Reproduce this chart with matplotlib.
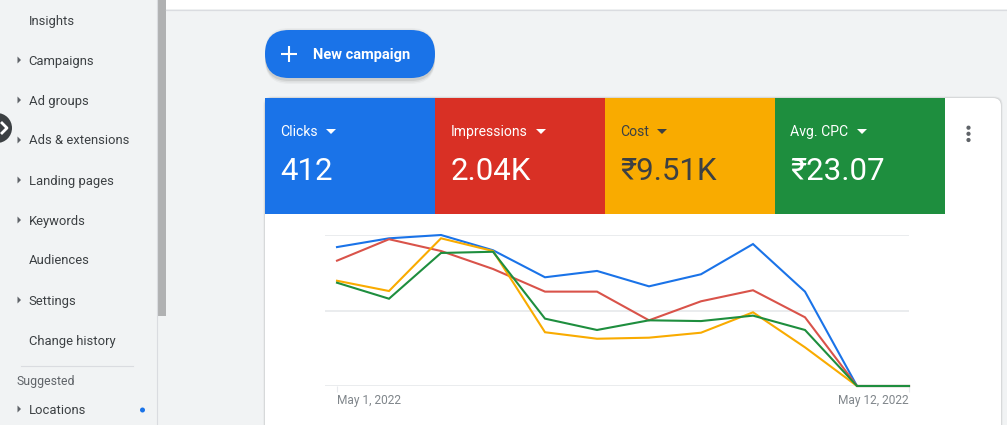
import numpy as np
import matplotlib
matplotlib.use('Agg')
import matplotlib.pyplot as plt
from matplotlib.patches import Rectangle, FancyBboxPatch, Circle, Polygon

plt.rcParams['font.family'] = ['Roboto', 'Noto Sans', 'DejaVu Sans']

W, H = 1007, 425

# sidebar
menu_items = ['Insights', 'Campaigns', 'Ad groups', 'Ads & extensions', 'Landing pages',
              'Keywords', 'Audiences', 'Settings', 'Change history']
menu_arrows = [False, True, True, True, True, True, False, True, False]

# metric tiles
tile_names = ['Clicks', 'Impressions', 'Cost', 'Avg. CPC']
tile_values = ['412', '2.04K', '₹9.51K', '₹23.07']
tile_colors = ['#1a73e8', '#d93025', '#f9ab00', '#1e8e3e']
tile_text = ['white', 'white', '#3c4043', 'white']
tile_caret = [331, 541, 662, 862]

# chart, each series scaled to its own max (no y axis in the screenshot)
days = np.arange(1, 13)
clicks = [92, 97.8, 100, 89.9, 72, 76.2, 66, 74, 94, 62.5, 0, 0]
impressions = [83, 97.2, 89.4, 77.5, 62.5, 62.5, 43.5, 56.1, 63.4, 45.5, 0, 0]
cost = [69.7, 62.9, 97.8, 89.4, 35.6, 31.3, 32, 35.3, 48.8, 25.6, 0, 0]
avg_cpc = [68.4, 57.8, 88.1, 88.9, 44.6, 37.1, 43.5, 43, 46.6, 37.1, 0, 0]
line_colors = ['#1a73e8', '#d9534a', '#f9ab00', '#1e8e3e']
date_labels = ['May 1, 2022', 'May 12, 2022']

fig = plt.figure(figsize=(W / 100, H / 100), dpi=100, facecolor='#f1f3f4')

# page chrome drawn in pixel coords
ui = fig.add_axes([0, 0, 1, 1])
ui.set_xlim(0, W)
ui.set_ylim(H, 0)
ui.axis('off')

ui.add_patch(Rectangle((166, 0), W - 166, 9, fc='white', ec='none'))
ui.plot([166, W], [9.5, 9.5], color='#dadce0', lw=0.9)
ui.plot([157.2, 157.2], [0, H], color='#dadce0', lw=0.8)
ui.add_patch(Rectangle((157.7, 0), 8.3, 316, fc='#b0b1b2', ec='none'))

for i, name in enumerate(menu_items):
    y = 21 + i * 40
    ui.text(28.7, y, name, fontsize=9.4, color='#3c4043', va='center', ha='left')
    if menu_arrows[i]:
        ui.add_patch(Polygon([[17.5, y - 4.5], [21, y - 1], [17.5, y + 2.5]], fc='#5f6368', ec='none'))

ui.plot([21, 133], [365.5, 365.5], color='#dadce0', lw=0.8)
ui.text(16.7, 381, 'Suggested', fontsize=8.8, color='#5f6368', va='center')
ui.text(28.7, 410.5, 'Locations', fontsize=9.4, color='#3c4043', va='center')
ui.add_patch(Polygon([[17.5, 405.5], [21, 409], [17.5, 412.5]], fc='#5f6368', ec='none'))
ui.add_patch(Circle((142.5, 410), 2.5, fc='#1a73e8', ec='none'))

# collapse handle on the left edge
ui.add_patch(Circle((-3, 128), 15, fc='#3c4043', ec='none'))
ui.plot([1, 7, 1], [122, 128, 134], color='white', lw=2, solid_capstyle='butt')

# new campaign button
for grow, alpha in [(4, 0.03), (2.5, 0.05), (1, 0.08)]:
    ui.add_patch(FancyBboxPatch((265 + 24, 32 + 24 - grow), 170 - 48, 0.01 + 2 * grow,
                                boxstyle='round,pad=24', fc='black', ec='none', alpha=alpha))
ui.add_patch(FancyBboxPatch((265 + 24, 30 + 24), 170 - 48, 0.01,
                            boxstyle='round,pad=24', fc='#1a73e8', ec='none'))
ui.plot([289, 289], [46, 62], color='white', lw=1.5, solid_capstyle='butt')
ui.plot([281, 297], [54, 54], color='white', lw=1.5, solid_capstyle='butt')
ui.text(313, 55, 'New campaign', fontsize=10.5, fontweight='bold', color='white', va='center')

# card
for grow, alpha in [(1.5, 0.05), (0.7, 0.08)]:
    ui.add_patch(FancyBboxPatch((265 + 8 - grow, 98 + 8 - grow), 736 - 16 + 2 * grow, 360,
                                boxstyle='round,pad=8', fc='black', ec='none', alpha=alpha))
ui.add_patch(FancyBboxPatch((265 + 8, 98 + 8), 736 - 16, 360, boxstyle='round,pad=8', fc='white', ec='none'))

for i, name in enumerate(tile_names):
    x0 = 265 + i * 170
    ui.add_patch(Rectangle((x0, 98), 170, 116, fc=tile_colors[i], ec='none'))
    ui.text(x0 + 15.5, 132, name, fontsize=10.1, color=tile_text[i], va='center')
    ui.text(x0 + 15.5, 171, tile_values[i], fontsize=22.5, color=tile_text[i], va='center')
    c = tile_caret[i]
    ui.add_patch(Polygon([[c - 5, 129], [c + 5, 129], [c, 134]], fc=tile_text[i], ec='none'))

for y in [127.7, 133.8, 140]:
    ui.add_patch(Circle((968.5, y), 2.1, fc='#5f6368', ec='none'))

# line chart, left edge of the gridlines sits 12px before the first point
ax = fig.add_axes([325 / W, 1 - 386 / H, (909 - 325) / W, (386 - 235) / H])
ax.patch.set_alpha(0)
ax.set_xlim(1 - 12 / 52, 12)
ax.set_ylim(0, 100)
for s in ax.spines.values():
    s.set_visible(False)

ax.set_yticks([0, 50, 100])
ax.set_yticklabels([])
ax.tick_params(axis='y', length=0)
ax.grid(axis='y', color='#e8eaed', lw=1.3)
ax.set_axisbelow(True)

for series, col in zip([clicks, impressions, cost, avg_cpc], line_colors):
    ax.plot(days, series, color=col, lw=1.5, clip_on=False, solid_joinstyle='miter')

ax.set_xticks([days[0], days[-1]])
ax.set_xticklabels(date_labels, fontsize=8.6, color='#80868b')
ax.tick_params(axis='x', length=4, width=0.8, color='#e8eaed', pad=2)
labels = ax.get_xticklabels()
labels[0].set_ha('left')
labels[1].set_ha('right')

fig.savefig('out.png', dpi=100, facecolor=fig.get_facecolor())
